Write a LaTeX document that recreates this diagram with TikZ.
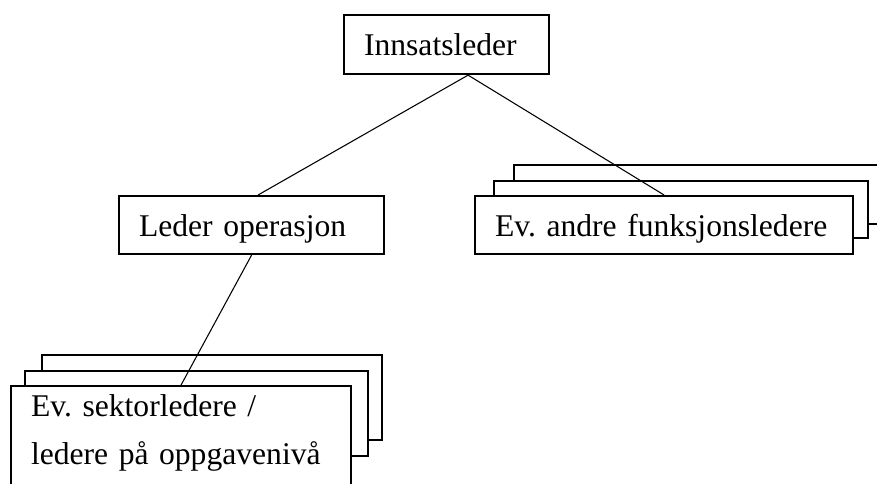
\documentclass[tikz,border=0pt]{standalone}
\usepackage{fontspec}
\setmainfont{Liberation Serif}
\usetikzlibrary{calc}
\begin{document}
\begin{tikzpicture}[x=0.75pt, y=-0.75pt,
  box/.style={draw, line width=1.6pt, fill=white, rectangle, anchor=north west,
    font=\fontsize{23.7pt}{36pt}\selectfont\frenchspacing, align=left, inner xsep=15pt,
    text height=17pt, text depth=0pt},
  back/.style={draw, line width=1.6pt, fill=white},
  link/.style={draw, line width=0.8pt}]
\useasboundingbox (0,0) rectangle (877,483);
\clip (0,0) rectangle (877,483);

% stacked copies behind the function-leader box
\draw[back] (514,165) rectangle (884,224);
\draw[back] (494,181) rectangle (868,238);
% stacked copies behind the sector-leader box
\draw[back] (42,355) rectangle (382,440);
\draw[back] (25,371) rectangle (368,456);

\node[box, minimum width=153.75pt, minimum height=44.25pt, text width=123.75pt]
  (top) at (343,14) {Innsatsleder};
\node[box, minimum width=198.75pt, minimum height=43.5pt, text width=168.75pt]
  (lo) at (118,195) {Leder operasjon};
\node[box, minimum width=283.5pt, minimum height=43.5pt, text width=253.5pt]
  (andre) at (474,195) {Ev. andre funksjonsledere};
\node[box, text width=225pt, text height=16pt, text depth=90pt, inner ysep=6.5pt]
  (sektor) at (10,385) {Ev. sektorledere /\\ledere på oppgavenivå};

% connectors
\path[link] ($(top.south)+(21.5,0)$) -- ($(lo.north)+(6.5,0)$);
\path[link] ($(top.south)+(21.5,0)$) -- (andre.north);
\path[link] (lo.south) -- (sektor.north);
\end{tikzpicture}
\end{document}
